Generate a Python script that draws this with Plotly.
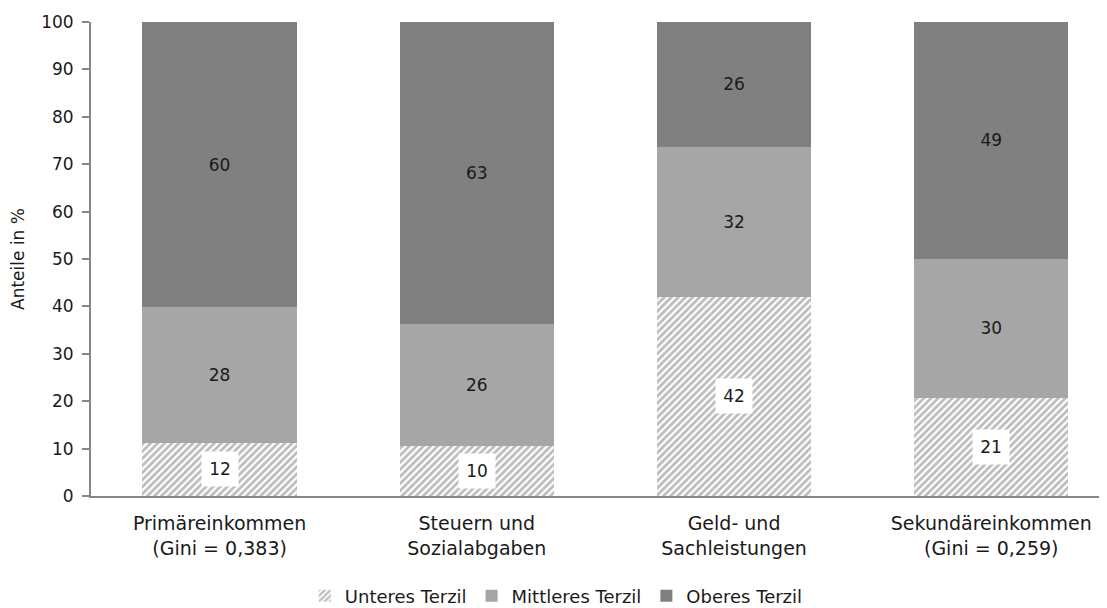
import plotly.graph_objects as go

categories = ["Primäreinkommen<br>(Gini = 0,383)", "Steuern und<br>Sozialabgaben",
              "Geld- und<br>Sachleistungen", "Sekundäreinkommen<br>(Gini = 0,259)"]
series_names = ["Unteres Terzil", "Mittleres Terzil", "Oberes Terzil"]
unteres = [11.2, 10.5, 42.0, 20.7]
mittleres = [28.6, 25.8, 31.7, 29.4]
oberes = [60.2, 63.7, 26.3, 49.9]
unteres_labels = ["12", "10", "42", "21"]
mittleres_labels = ["28", "26", "32", "30"]
oberes_labels = ["60", "63", "26", "49"]
y_ticks = [0, 10, 20, 30, 40, 50, 60, 70, 80, 90, 100]

FONT = "DejaVu Sans, sans-serif"
TXT = "#1a1a1a"
W, H = 1099, 600  # page adds an 8px body margin

fig = go.Figure()
fig.add_trace(go.Bar(
    x=categories, y=unteres, name=series_names[0],
    marker=dict(color="white", line=dict(width=0),
                pattern=dict(shape="/", fgcolor="#7a7a7a", bgcolor="white", size=5, solidity=0.55)),
))
fig.add_trace(go.Bar(
    x=categories, y=mittleres, name=series_names[1],
    marker=dict(color="#a6a6a6", line=dict(width=0)),
    text=mittleres_labels, textposition="inside", insidetextanchor="middle",
    textfont=dict(size=17, color=TXT, family=FONT),
))
fig.add_trace(go.Bar(
    x=categories, y=oberes, name=series_names[2],
    marker=dict(color="#808080", line=dict(width=0)),
    text=oberes_labels, textposition="inside", insidetextanchor="middle",
    textfont=dict(size=17, color=TXT, family=FONT),
))

for cat, v, lab in zip(categories, unteres, unteres_labels):
    fig.add_annotation(x=cat, y=v / 2, text=lab, showarrow=False,
                       bgcolor="white", width=24, height=22, borderpad=6,
                       font=dict(size=17, color=TXT, family=FONT))

fig.update_layout(
    barmode="stack", bargap=0.4,
    width=W, height=H,
    margin=dict(l=83, r=0, t=14, b=112, autoexpand=False),
    paper_bgcolor="white", plot_bgcolor="white",
    font=dict(family=FONT, size=17, color=TXT),
    showlegend=True,
    legend=dict(orientation="h", x=0.458, xanchor="center", xref="paper",
                y=(H - 588) / H, yanchor="middle", yref="container",
                font=dict(size=18, family=FONT, color=TXT), itemwidth=30, traceorder="normal"),
)
fig.update_xaxes(range=[-0.5, 3.45], showline=True, linecolor="#868686", linewidth=2,
                 ticks="", tickfont=dict(size=19, family=FONT, color=TXT),
                 ticklabelstandoff=9, showgrid=False, zeroline=False, automargin=False)
fig.update_yaxes(range=[0, 100], tickvals=y_ticks, showline=True, linecolor="#868686",
                 linewidth=2, ticks="outside", ticklen=7, tickcolor="#868686", tickwidth=2,
                 tickfont=dict(size=17, family=FONT, color=TXT), ticklabelstandoff=5,
                 showgrid=False, zeroline=False, automargin=False,
                 title=dict(text="Anteile in %", font=dict(size=17, family=FONT, color=TXT), standoff=13))

fig.write_html("out.html")
